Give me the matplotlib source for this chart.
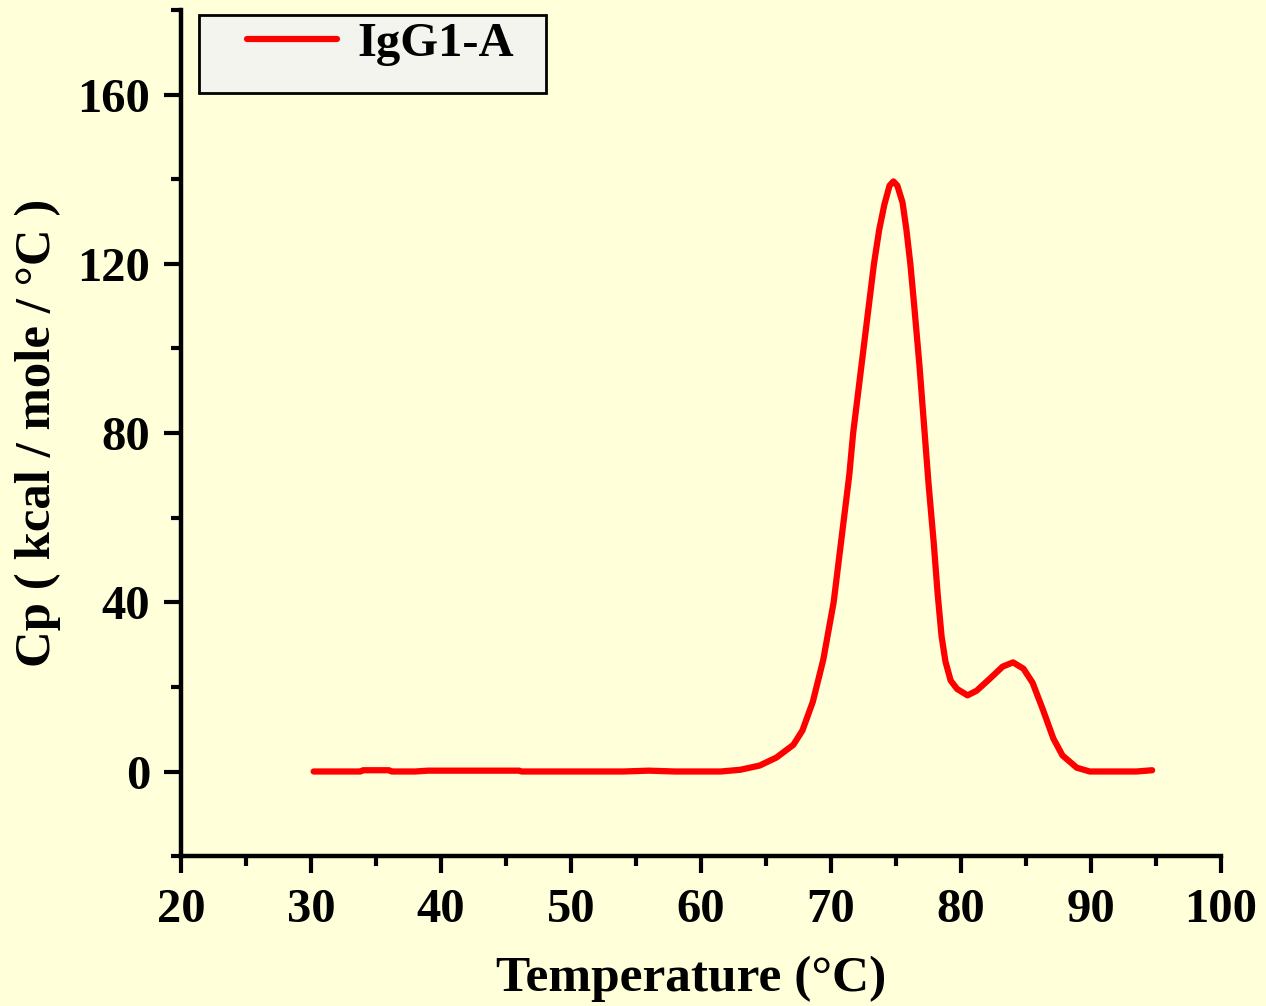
"""
DSC thermogram of IgG1-A
"""

import matplotlib
matplotlib.use("Agg")
import matplotlib.pyplot as plt
from matplotlib.ticker import MultipleLocator
from matplotlib.patches import Rectangle

# data (temperature in C, Cp in kcal/mole/C)
temp = [30.2, 32.0, 33.8, 34.0, 36.0, 36.2, 38.0, 39.0, 40.0, 42.0, 44.0, 46.0,
        46.2, 48.0, 50.0, 52.0, 54.0, 56.0, 58.0, 60.0, 61.5, 63.0, 64.5, 65.8,
        67.1, 67.8, 68.6, 69.4, 70.2, 70.6, 71.0, 71.4, 71.7, 72.1, 72.5, 72.9,
        73.3, 73.7, 74.1, 74.5, 74.8, 75.1, 75.5, 75.8, 76.1, 76.4, 76.8, 77.2,
        77.5, 77.9, 78.2, 78.5, 78.8, 79.2, 79.7, 80.5, 81.2, 82.2, 83.2, 84.0,
        84.8, 85.5, 86.3, 87.1, 87.8, 88.9, 89.9, 90.7, 92.0, 93.5, 94.7]
cp = [0.0, 0.0, 0.0, 0.3, 0.3, 0.0, 0.0, 0.2, 0.2, 0.2, 0.2, 0.2,
      0.0, 0.0, 0.0, 0.0, 0.0, 0.2, 0.0, 0.0, 0.0, 0.4, 1.4, 3.3,
      6.3, 9.7, 16.5, 26.4, 40.0, 50.0, 60.0, 70.0, 80.0, 90.0, 100.0, 110.0,
      120.0, 128.0, 134.0, 138.5, 139.5, 138.5, 134.5, 128.0, 120.0, 110.0, 96.0, 80.0,
      68.0, 54.0, 42.0, 32.0, 26.0, 21.5, 19.5, 18.0, 19.1, 21.9, 24.8, 25.8,
      24.3, 21.0, 14.6, 7.8, 3.8, 0.9, 0.0, 0.0, 0.0, 0.0, 0.3]

bg = "#FFFFD9"
plt.rcParams["font.family"] = ["Liberation Serif", "DejaVu Serif"]
plt.rcParams["font.weight"] = "bold"

fig = plt.figure(figsize=(12.66, 10.06), dpi=100, facecolor=bg)
ax = fig.add_axes([0.143, 0.149, 0.8215, 0.841], facecolor=bg)

ax.plot(temp, cp, color="red", lw=4.5, solid_capstyle="round",
        solid_joinstyle="round", label="IgG1-A")

ax.set_xlim(20, 100)
ax.set_ylim(-20, 180)
ax.xaxis.set_major_locator(MultipleLocator(10))
ax.xaxis.set_minor_locator(MultipleLocator(5))
ax.yaxis.set_major_locator(MultipleLocator(40))
ax.yaxis.set_minor_locator(MultipleLocator(20))

for side in ["top", "right"]:
    ax.spines[side].set_visible(False)
for side in ["left", "bottom"]:
    ax.spines[side].set_linewidth(3.2)

ax.tick_params(which="major", direction="out", length=12, width=3, labelsize=35)
ax.tick_params(which="minor", direction="out", length=7, width=3)
ax.tick_params(axis="x", which="major", pad=11)
ax.tick_params(axis="y", which="major", pad=10)
for lab in ax.get_xticklabels() + ax.get_yticklabels():
    lab.set_fontweight("bold")

ax.set_xlabel("Temperature (\u00b0C)", fontsize=37, fontweight="bold")
ax.set_ylabel("Cp ( kcal / mole / \u00b0C )", fontsize=36.5, fontweight="bold")
ax.xaxis.set_label_coords(0.49, -0.118)
ax.yaxis.set_label_coords(-0.115, 0.5)

# legend box
ax.add_patch(Rectangle((0.0173, 0.902), 0.3337, 0.092, transform=ax.transAxes,
                       facecolor="#F4F4EE", edgecolor="black", lw=2,
                       zorder=4, clip_on=False))
leg = ax.legend(loc="center left", bbox_to_anchor=(0.0635, 0.960), fontsize=35,
                frameon=False, handlelength=1.85, handletextpad=0.42,
                borderpad=0, borderaxespad=0)
leg.set_zorder(5)
for t in leg.get_texts():
    t.set_fontweight("bold")

fig.savefig("out.png", dpi=100, facecolor=bg)
